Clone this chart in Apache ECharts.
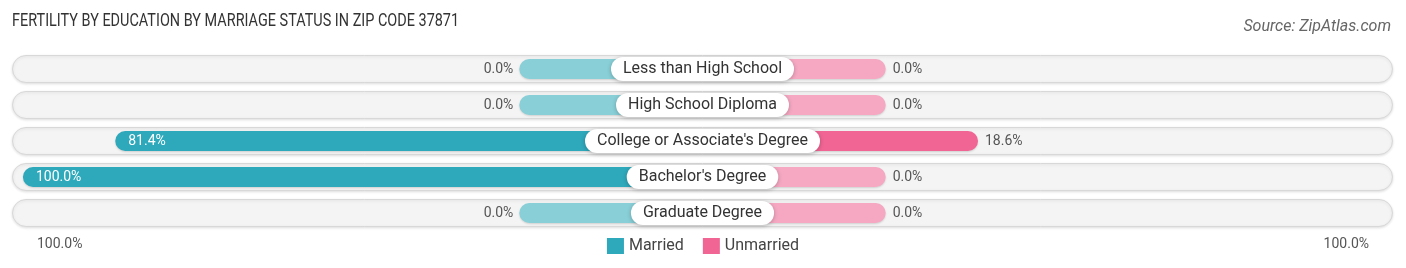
<!DOCTYPE html>
<html>
<head>
<meta charset="utf-8">
<script src="https://cdn.jsdelivr.net/npm/echarts@6/dist/echarts.min.js"></script>
<style>
html,body{margin:0;padding:0;background:#fff;}
#c{width:1406px;height:268px;}
</style>
</head>
<body>
<div id="c"></div>
<script>
const categories = ['Less than High School', 'High School Diploma', "College or Associate's Degree", "Bachelor's Degree", 'Graduate Degree'];
const married = [0.0, 0.0, 81.4, 100.0, 0.0];
const unmarried = [0.0, 0.0, 18.6, 0.0, 0.0];
const seriesNames = ['Married', 'Unmarried'];
const axisEndLabels = ['100.0%', '100.0%'];
const titleText = 'FERTILITY BY EDUCATION BY MARRIAGE STATUS IN ZIP CODE 37871';
const sourceText = 'Source: ZipAtlas.com';

// layout constants
const STUB = 36.9;      // minimal visible bar length (in value units) hidden behind the label
const HALF = 139.1;     // half range of value axis
const C_M = '#2ea8bb', C_M_LIGHT = '#88cfd7';
const C_U = '#f06593', C_U_LIGHT = '#f6a8c3';
const FONT = 'Roboto, "Noto Sans", sans-serif';
const fmt = v => v.toFixed(1) + '%';

const chart = echarts.init(document.getElementById('c'), null, {renderer: 'canvas'});

const marriedData = married.map((v, i) => ({
  value: -(STUB + v),
  raw: v,
  itemStyle: {color: v === 0 ? C_M_LIGHT : C_M},
  label: v === 0
    ? {position: 'left', distance: 6, color: '#555'}
    : {position: 'insideLeft', distance: 13, color: '#fff'}
}));
const unmarriedData = unmarried.map((v, i) => ({
  value: STUB + v,
  raw: v,
  itemStyle: {color: v === 0 ? C_U_LIGHT : C_U},
  label: {position: 'right', distance: 7, color: '#555'}
}));

chart.setOption({
  animation: false,
  textStyle: {fontFamily: FONT},
  title: [
    {text: sourceText, right: 10, top: 14, textStyle: {fontSize: 16, fontWeight: 'normal', fontStyle: 'italic', color: '#666', fontFamily: FONT}}
  ],
  legend: {
    data: seriesNames,
    left: 'center',
    top: 233,
    itemWidth: 17,
    itemHeight: 16,
    itemGap: 19,
    icon: 'rect',
    textStyle: {fontSize: 16, color: '#444', fontFamily: FONT}
  },
  grid: {left: 12, right: 13, top: 51, height: 180},
  xAxis: [
    {type: 'value', min: -HALF, max: HALF, show: false},
    {type: 'value', min: 0, max: 1, show: false}
  ],
  yAxis: [
    {type: 'category', data: categories, inverse: true, show: false},
    {type: 'category', data: categories, inverse: true, show: false}
  ],
  graphic: [
    {type: 'text', x: 12, y: 12, scaleX: 0.76, style: {text: titleText, fontSize: 19, fill: '#333', fontFamily: FONT}},
    {type: 'text', left: 37, top: 237, style: {text: axisEndLabels[0], fontSize: 14, fill: '#555', fontFamily: FONT}},
    {type: 'text', right: 37, top: 237, style: {text: axisEndLabels[1], fontSize: 14, fill: '#555', fontFamily: FONT}}
  ],
  series: [
    {
      name: 'bg', type: 'bar', xAxisIndex: 1, yAxisIndex: 1,
      data: categories.map(() => 1), barWidth: 28, silent: true,
      itemStyle: {color: '#f4f4f4', borderColor: '#d8d8d8', borderWidth: 1, borderRadius: 14,
        shadowBlur: 3, shadowColor: 'rgba(0,0,0,0.12)', shadowOffsetY: 1},
      legendHoverLink: false
    },
    {
      name: seriesNames[0], type: 'bar', xAxisIndex: 0, yAxisIndex: 0,
      data: marriedData, barWidth: 20, barGap: '-100%',
      itemStyle: {color: C_M, borderRadius: [10, 0, 0, 10], shadowBlur: 2, shadowColor: 'rgba(0,0,0,0.15)', shadowOffsetY: 1},
      label: {show: true, fontSize: 14, fontFamily: FONT, formatter: p => fmt(p.data.raw)}
    },
    {
      name: seriesNames[1], type: 'bar', xAxisIndex: 0, yAxisIndex: 0,
      data: unmarriedData, barWidth: 20, barGap: '-100%',
      itemStyle: {color: C_U, borderRadius: [0, 10, 10, 0], shadowBlur: 2, shadowColor: 'rgba(0,0,0,0.15)', shadowOffsetY: 1},
      label: {show: true, fontSize: 14, fontFamily: FONT, formatter: p => fmt(p.data.raw)}
    },
    {
      name: 'labels', type: 'scatter', xAxisIndex: 0, yAxisIndex: 0,
      data: categories.map(c => [0, c]), symbolSize: 1,
      itemStyle: {color: 'rgba(0,0,0,0)', opacity: 1}, silent: true, z: 10,
      label: {
        show: true, position: 'inside', formatter: p => p.value[1],
        fontSize: 16, color: '#333', fontFamily: FONT, opacity: 1,
        backgroundColor: '#fff', borderRadius: 12, padding: [4, 12, 4, 12],
        shadowBlur: 4, shadowColor: 'rgba(0,0,0,0.25)', shadowOffsetY: 1
      }
    }
  ]
});
</script>
</body>
</html>
